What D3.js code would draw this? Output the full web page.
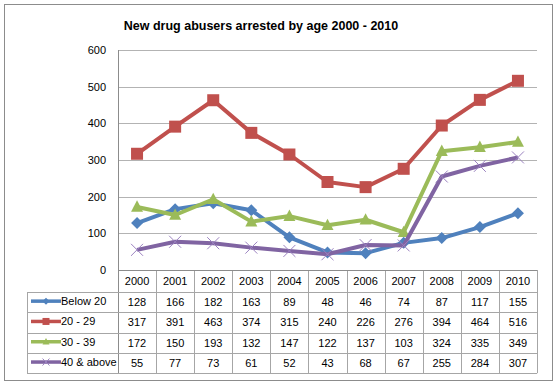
<!DOCTYPE html>
<html lang="en">
<head>
<meta charset="UTF-8">
<title>New drug abusers arrested by age 2000 - 2010</title>
<script src="https://d3js.org/d3.v7.min.js"></script>
<style>
    body { margin: 0; background: #fff; }
    svg { display: block; font-family: "Liberation Sans", Arial, sans-serif; }
    .tick-label { font-size: 11px; fill: #000; }
    .cell { font-size: 11px; fill: #000; text-anchor: middle; }
</style>
</head>
<body>
<svg id="chart"></svg>
<script>
// data
const years = ["2000", "2001", "2002", "2003", "2004", "2005", "2006", "2007", "2008", "2009", "2010"];
const seriesNames = ["Below 20", "20 - 29", "30 - 39", "40 & above"];
const below20 = [128, 166, 182, 163, 89, 48, 46, 74, 87, 117, 155];
const age20to29 = [317, 391, 463, 374, 315, 240, 226, 276, 394, 464, 516];
const age30to39 = [172, 150, 193, 132, 147, 122, 137, 103, 324, 335, 349];
const age40up = [55, 77, 73, 61, 52, 43, 68, 67, 255, 284, 307];
const yTicks = [0, 100, 200, 300, 400, 500, 600];

const colors = ["#4F81BD", "#C0504D", "#9BBB59", "#8064A2"];
const markers = ["diamond", "square", "triangle", "x"];
const allSeries = [below20, age20to29, age30to39, age40up].map((v, i) => ({
    name: seriesNames[i], values: v, color: colors[i], marker: markers[i]
}));

const W = 559, H = 385;
const plot = {left: 118, right: 537, top: 50, bottom: 270};
const rowH = 20.3;
const headerH = 22;
const legendLeft = 27;

const svg = d3.select("#chart").attr("width", W).attr("height", H);

// outer chart border
svg.append("rect")
    .attr("x", 4.5).attr("y", 4.5)
    .attr("width", 548).attr("height", 376)
    .attr("fill", "#fff")
    .attr("stroke", "#8c8c8c")
    .attr("stroke-width", 1);

// title
svg.append("text")
    .attr("x", 261).attr("y", 30)
    .attr("text-anchor", "middle")
    .style("font-size", "12.5px")
    .style("font-weight", "bold")
    .text("New drug abusers arrested by age 2000 - 2010");

const x = d3.scaleBand().domain(years).range([plot.left, plot.right]);
const y = d3.scaleLinear().domain([0, 600]).range([plot.bottom, plot.top]);

// gridlines
svg.append("g")
    .selectAll("line")
    .data(yTicks.filter(d => d > 0))
    .join("line")
    .attr("x1", plot.left).attr("x2", plot.right)
    .attr("y1", d => Math.round(y(d)) + 0.5).attr("y2", d => Math.round(y(d)) + 0.5)
    .attr("stroke", "#b3b3b3");

// y axis labels
svg.append("g")
    .selectAll("text")
    .data(yTicks)
    .join("text")
    .attr("class", "tick-label")
    .attr("x", 106)
    .attr("y", d => y(d) + 4)
    .attr("text-anchor", "end")
    .text(d => d);

// data table
const tableTop = plot.bottom;
const tableBottom = tableTop + headerH + rowH * 4;
const grid = svg.append("g").attr("stroke", "#a6a6a6").attr("stroke-width", 1);

// vertical lines for year columns
years.forEach(yr => {
    grid.append("line")
        .attr("x1", Math.round(x(yr) + x.bandwidth()) + 0.5)
        .attr("x2", Math.round(x(yr) + x.bandwidth()) + 0.5)
        .attr("y1", tableTop).attr("y2", tableBottom);
});
// left plot/axis line
grid.append("line")
    .attr("x1", plot.left + 0.5).attr("x2", plot.left + 0.5)
    .attr("y1", plot.top).attr("y2", tableBottom)
    .attr("stroke", "#8c8c8c");
// legend column left edge
grid.append("line")
    .attr("x1", legendLeft + 0.5).attr("x2", legendLeft + 0.5)
    .attr("y1", tableTop + headerH).attr("y2", tableBottom);
// horizontal lines
grid.append("line")
    .attr("x1", plot.left).attr("x2", plot.right)
    .attr("y1", tableTop + 0.5).attr("y2", tableTop + 0.5)
    .attr("stroke", "#8c8c8c");
for (let r = 0; r <= 4; r++) {
    const yy = Math.round(tableTop + headerH + r * rowH) + 0.5;
    grid.append("line")
        .attr("x1", legendLeft).attr("x2", plot.right)
        .attr("y1", yy).attr("y2", yy);
}

// header years
svg.append("g")
    .selectAll("text")
    .data(years)
    .join("text")
    .attr("class", "cell")
    .attr("x", d => x(d) + x.bandwidth() / 2)
    .attr("y", tableTop + headerH / 2 + 4)
    .text(d => d);

// marker drawing
function drawMarker(g, type, cx, cy, color, s) {
    if (type === "diamond") {
        g.append("path")
            .attr("d", `M${cx},${cy - s}L${cx + s},${cy}L${cx},${cy + s}L${cx - s},${cy}Z`)
            .attr("fill", color);
    } else if (type === "square") {
        g.append("rect")
            .attr("x", cx - s).attr("y", cy - s)
            .attr("width", 2 * s).attr("height", 2 * s)
            .attr("fill", color);
    } else if (type === "triangle") {
        g.append("path")
            .attr("d", `M${cx},${cy - s * 1.1}L${cx + s},${cy + s * 0.8}L${cx - s},${cy + s * 0.8}Z`)
            .attr("fill", color);
    } else {
        g.append("path")
            .attr("d", `M${cx - s},${cy - s}L${cx + s},${cy + s}M${cx - s},${cy + s}L${cx + s},${cy - s}`)
            .attr("stroke", "#9b82c0")
            .attr("stroke-width", 1);
    }
}

// table rows with legend keys and values
allSeries.forEach((s, i) => {
    const rowMid = tableTop + headerH + i * rowH + rowH / 2;
    const row = svg.append("g");
    row.append("line")
        .attr("x1", 31).attr("x2", 61)
        .attr("y1", rowMid - 1).attr("y2", rowMid - 1)
        .attr("stroke", s.color).attr("stroke-width", 3.5);
    drawMarker(row, s.marker, 46, rowMid - 1, s.color, 3.5);
    row.append("text")
        .attr("class", "tick-label")
        .attr("x", 61).attr("y", rowMid + 3)
        .text(s.name);
    row.selectAll("text.cell")
        .data(s.values)
        .join("text")
        .attr("class", "cell")
        .attr("x", (d, j) => x(years[j]) + x.bandwidth() / 2)
        .attr("y", rowMid + 4)
        .text(d => d);
});

// lines
const line = d3.line()
    .x((d, j) => x(years[j]) + x.bandwidth() / 2)
    .y(d => y(d));

allSeries.forEach(s => {
    const g = svg.append("g");
    g.append("path")
        .datum(s.values)
        .attr("d", line)
        .attr("fill", "none")
        .attr("stroke", s.color)
        .attr("stroke-width", 4)
        .attr("stroke-linejoin", "round");
    s.values.forEach((v, j) => {
        drawMarker(g, s.marker, x(years[j]) + x.bandwidth() / 2, y(v), s.color, s.marker === "x" ? 6 : 6);
    });
});
</script>
</body>
</html>
